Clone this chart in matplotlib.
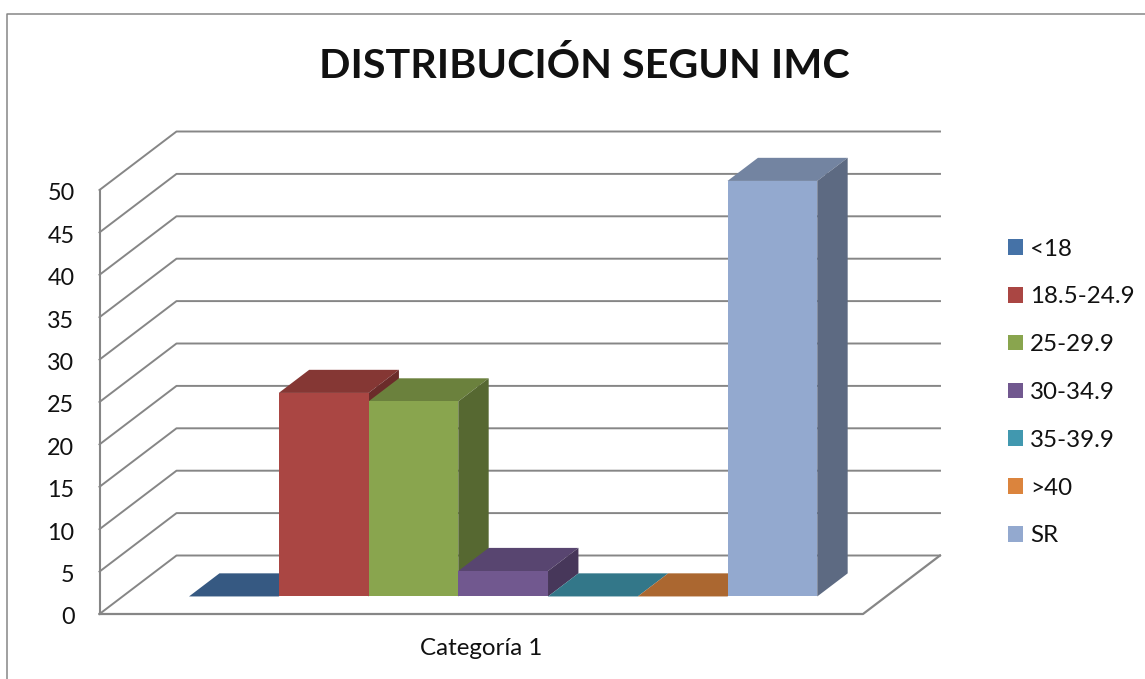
import matplotlib
matplotlib.use("Agg")
import matplotlib.pyplot as plt
from matplotlib.lines import Line2D
from matplotlib.patches import Polygon
from matplotlib.transforms import ScaledTranslation

# chart data
series_names = ["<18", "18.5-24.9", "25-29.9", "30-34.9", "35-39.9", ">40", "SR"]
series_values = [0, 24, 23, 3, 0, 0, 49]
category_label = "Categoría 1"
y_ticks = [0, 5, 10, 15, 20, 25, 30, 35, 40, 45, 50]
title_text = "DISTRIBUCIÓN SEGUN IMC"

colors = ["#4572A7", "#AA4643", "#89A54E", "#71588F", "#4198AF", "#DB843D", "#93A9CF"]
GRID = "#868686"

W, H = 1145, 679
# front plane of the 3d box, in pixels
LEFT, RIGHT, BOTTOM, TOP = 99.5, 863, 614, 190
# shift for full box depth, in data units
X_MIN, X_MAX = -0.74, 7.767
DX = 77 / ((RIGHT - LEFT) / (X_MAX - X_MIN))
DY = 58.5 / 8.48
BAR_FRONT = 0.30
BAR_BACK = 0.695


def shade(color, factor):
    rgb = matplotlib.colors.to_rgb(color)
    return tuple(c * factor for c in rgb)


def proj(x, v, d):
    return (x + d * DX, v + d * DY)


def main():
    plt.rcParams["font.family"] = ["Lato", "DejaVu Sans"]
    fig = plt.figure(figsize=(W / 100, H / 100), dpi=100)
    ax = fig.add_axes([LEFT / W, 1 - BOTTOM / H, (RIGHT - LEFT) / W, (BOTTOM - TOP) / H])
    ax.set_xlim(X_MIN, X_MAX)
    ax.set_ylim(0, 50)
    ax.patch.set_visible(False)
    for s in ax.spines.values():
        s.set_visible(False)

    # outer chart border, runs off the image on the right and bottom
    fig.add_artist(Line2D([6.5 / W, 6.5 / W, 1], [0, 1 - 13.5 / H, 1 - 13.5 / H],
                          color=GRID, lw=1.1, transform=fig.transFigure))

    # walls and floor
    for v in y_ticks:
        pts = [proj(X_MIN, v, 0), proj(X_MIN, v, 1), proj(X_MAX, v, 1)]
        ax.plot(*zip(*pts), color=GRID, lw=1.4, clip_on=False, zorder=1)
    ax.plot([X_MIN, X_MIN], [0, 50], color=GRID, lw=1.5, clip_on=False, zorder=1)
    floor = [proj(X_MIN, 0, 0), proj(X_MAX, 0, 0), proj(X_MAX, 0, 1)]
    ax.plot(*zip(*floor), color=GRID, lw=1.6, clip_on=False, zorder=1)

    # bars, left to right so each one covers the side of the previous one
    base_x, base_y = proj(0, 0, BAR_FRONT)
    for i, (name, val, col) in enumerate(zip(series_names, series_values, colors)):
        z = 2 + i
        ax.bar(i + base_x, val, width=1, bottom=base_y, align="edge", color=col,
               label=name, clip_on=False, zorder=z + 0.2)
        top = [proj(i, val, BAR_FRONT), proj(i + 1, val, BAR_FRONT),
               proj(i + 1, val, BAR_BACK), proj(i, val, BAR_BACK)]
        side = [proj(i + 1, 0, BAR_FRONT), proj(i + 1, val, BAR_FRONT),
                proj(i + 1, val, BAR_BACK), proj(i + 1, 0, BAR_BACK)]
        ax.add_patch(Polygon(top, color=shade(col, 0.78), lw=0, clip_on=False, zorder=z))
        if val > 0:
            ax.add_patch(Polygon(side, color=shade(col, 0.63), lw=0, clip_on=False, zorder=z))

    ax.set_yticks(y_ticks)
    ax.set_xticks([(X_MIN + X_MAX) / 2])
    ax.set_xticklabels([category_label])
    ax.tick_params(axis="y", length=0, pad=18, labelsize=16.8, labelcolor="#111111")
    ax.tick_params(axis="x", length=0, pad=17.5, labelsize=17.4, labelcolor="#111111")
    # the value labels sit a little under their grid level
    nudge = ScaledTranslation(0, -2 / 100, fig.dpi_scale_trans)
    for lab in ax.get_yticklabels():
        lab.set_transform(lab.get_transform() + nudge)

    fig.text(584.5 / W, 1 - 66.5 / H, title_text, fontsize=29.7, fontweight="bold",
             ha="center", va="center", color="#111111")

    ax.legend(loc="center left", bbox_to_anchor=(1008 / W, 1 - 392.5 / H),
              bbox_transform=fig.transFigure, frameon=False, fontsize=17.4,
              handlelength=0.62, handleheight=0.62, handletextpad=0.29,
              labelspacing=1.11, labelcolor="#111111", borderpad=0, borderaxespad=0)

    fig.savefig("out.png", dpi=100)


if __name__ == "__main__":
    main()
